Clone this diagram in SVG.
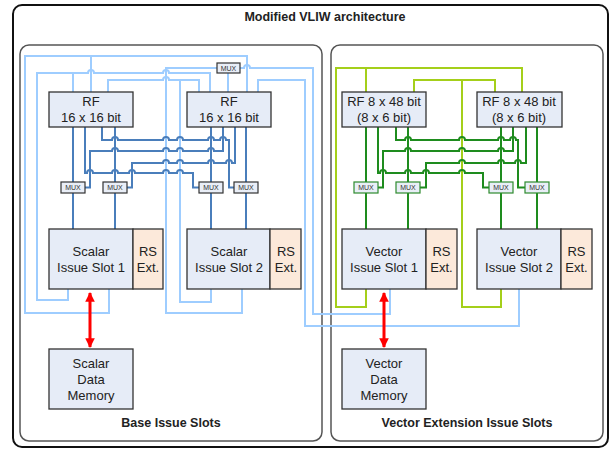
<svg xmlns="http://www.w3.org/2000/svg" width="611" height="450" viewBox="0 0 611 450">
<defs>
<style>
text{font-family:"Liberation Sans",Arial,sans-serif;fill:#222}
.t{font-size:13px;text-anchor:middle}
.b{font-size:12.5px;font-weight:bold;text-anchor:middle}
.m{font-size:7px;text-anchor:middle;fill:#333}
.box{fill:#e6ecf7;stroke:#333;stroke-width:1.3}
.rs{fill:#fce9da;stroke:#333;stroke-width:1.3}
.mux{fill:#e9eef7;stroke:#333;stroke-width:1.2}
.gmux{fill:#e9eef7;stroke:#2e8b2e;stroke-width:1.2}
.db{fill:none;stroke:#4a7ebb;stroke-width:2}
.dg{fill:none;stroke:#1e8c1e;stroke-width:2}
.lb{fill:none;stroke:#9ecdff;stroke-width:2}
.lm{fill:none;stroke:#a4cf1a;stroke-width:2}
.red{fill:none;stroke:#ff0000;stroke-width:3}
</style>
<marker id="ah" viewBox="0 0 10 10" refX="9" refY="5" markerWidth="3.2" markerHeight="3.2" orient="auto-start-reverse">
<path d="M0,0 L10,5 L0,10 z" fill="#ff0000"/>
</marker>
</defs>
<rect width="611" height="450" fill="#fff"/>
<g id="frame">
<rect x="13" y="5" width="595" height="442" rx="9" fill="none" stroke="#111" stroke-width="2"/>
<text class="b" x="325" y="21">Modified VLIW architecture</text>
</g>
<g id="base-slots">
<rect x="20" y="45" width="302" height="396" rx="9" fill="none" stroke="#555" stroke-width="1.5"/>
<text class="b" x="171" y="427">Base Issue Slots</text>
</g>
<g id="vector-slots">
<rect x="331" y="45" width="272" height="396" rx="9" fill="none" stroke="#555" stroke-width="1.5"/>
<text class="b" x="467" y="427">Vector Extension Issue Slots</text>
</g>
<g id="connectors">
<path class="lb" d="M109,289 V313 H25 V56 H247 V92 M91,56 V92"/>
<path class="lb" d="M68,289 V300 H37 V73 H88 a3,3 0 0 1 6,0 H163 a3,3 0 0 1 6,0 H210 V92 M73,73 V92"/>
<path class="lb" d="M211,289 V302 H180 V80 M108,92 V80 H163 a3,3 0 0 1 6,0 H199 V92"/>
<path class="lb" d="M242,289 V313 H166 V68 H217"/>
<path class="lb" d="M228,73 V92"/>
<path class="lb" d="M240,68 H244 a3,3 0 0 1 6,0 H313 V314 H390 V289"/>
<path class="lb" d="M519,289 V326 H305 V80 H258 V92"/>
<path class="lm" d="M366,289 V307 H336 V68 H522 V92 M366,68 V92"/>
<path class="lm" d="M501,289 V307 H462 V80 M414,92 V80 H495 V92"/>
<path class="db" d="M73,127 V182 M73,193 V229 M115,127 V182 M115,193 V229 M211,127 V182 M211,193 V229 M246,127 V182 M246,193 V229"/>
<path class="db" d="M85,127 V173 H87 a3,3 0 0 1 6,0 H112 a3,3 0 0 1 6,0 H129 a3,3 0 0 1 6,0 H163 a3,3 0 0 1 6,0 H177 a3,3 0 0 1 6,0 H193 V187.5 H199"/>
<path class="db" d="M102,127 V140 H112 a3,3 0 0 1 6,0 H163 a3,3 0 0 1 6,0 H177 a3,3 0 0 1 6,0 H208 a3,3 0 0 1 6,0 H220 a3,3 0 0 1 6,0 H229 V187.5 H234"/>
<path class="db" d="M85,187.5 H90 V151 H112 a3,3 0 0 1 6,0 H163 a3,3 0 0 1 6,0 H177 a3,3 0 0 1 6,0 H208 a3,3 0 0 1 6,0 H223 V127"/>
<path class="db" d="M127,187.5 H132 V163 H163 a3,3 0 0 1 6,0 H177 a3,3 0 0 1 6,0 H208 a3,3 0 0 1 6,0 H226 a3,3 0 0 1 6,0 H235 V127"/>
<path class="dg" d="M366,127 V182 M366,193 V229 M408,127 V182 M408,193 V229 M501,127 V182 M501,193 V229 M537,127 V182 M537,193 V229"/>
<path class="dg" d="M378,127 V173 H380 a3,3 0 0 1 6,0 H405 a3,3 0 0 1 6,0 H423 a3,3 0 0 1 6,0 H459 a3,3 0 0 1 6,0 H483 V187.5 H489"/>
<path class="dg" d="M396,127 V140 H405 a3,3 0 0 1 6,0 H459 a3,3 0 0 1 6,0 H498 a3,3 0 0 1 6,0 H510 a3,3 0 0 1 6,0 H518 V187.5 H525"/>
<path class="dg" d="M378,187.5 H383 V151 H405 a3,3 0 0 1 6,0 H459 a3,3 0 0 1 6,0 H498 a3,3 0 0 1 6,0 H513 V127"/>
<path class="dg" d="M420,187.5 H426 V163 H459 a3,3 0 0 1 6,0 H498 a3,3 0 0 1 6,0 H515 a3,3 0 0 1 6,0 H526 V127"/>
<path class="red" d="M90,293 V347" marker-start="url(#ah)" marker-end="url(#ah)"/>
<path class="red" d="M384,293 V347" marker-start="url(#ah)" marker-end="url(#ah)"/>
</g>
<g id="rf1"><rect class="box" x="49" y="92" width="84" height="35"/><text class="t" x="91" y="106">RF</text><text class="t" x="91" y="122">16 x 16 bit</text></g>
<g id="rf2"><rect class="box" x="187" y="92" width="84" height="35"/><text class="t" x="229" y="106">RF</text><text class="t" x="229" y="122">16 x 16 bit</text></g>
<g id="vrf1"><rect class="box" x="342" y="92" width="84" height="35"/><text class="t" x="384" y="106">RF 8 x 48 bit</text><text class="t" x="384" y="122">(8 x 6 bit)</text></g>
<g id="vrf2"><rect class="box" x="477" y="92" width="85" height="35"/><text class="t" x="519" y="106">RF 8 x 48 bit</text><text class="t" x="519" y="122">(8 x 6 bit)</text></g>
<g id="mux-top"><rect class="mux" x="217" y="63" width="23" height="10"/><text class="m" x="228.5" y="70.5">MUX</text></g>
<g id="mux1"><rect class="mux" x="61" y="182" width="24" height="11"/><text class="m" x="73" y="190">MUX</text></g>
<g id="mux2"><rect class="mux" x="103" y="182" width="24" height="11"/><text class="m" x="115" y="190">MUX</text></g>
<g id="mux3"><rect class="mux" x="199" y="182" width="24" height="11"/><text class="m" x="211" y="190">MUX</text></g>
<g id="mux4"><rect class="mux" x="234" y="182" width="24" height="11"/><text class="m" x="246" y="190">MUX</text></g>
<g id="vmux1"><rect class="gmux" x="354" y="182" width="24" height="11"/><text class="m" x="366" y="190">MUX</text></g>
<g id="vmux2"><rect class="gmux" x="396" y="182" width="24" height="11"/><text class="m" x="408" y="190">MUX</text></g>
<g id="vmux3"><rect class="gmux" x="489" y="182" width="24" height="11"/><text class="m" x="501" y="190">MUX</text></g>
<g id="vmux4"><rect class="gmux" x="525" y="182" width="24" height="11"/><text class="m" x="537" y="190">MUX</text></g>
<g id="slot1"><rect class="box" x="49" y="229" width="84" height="60"/><rect class="rs" x="133" y="229" width="30" height="60"/><text class="t" x="91" y="256">Scalar</text><text class="t" x="91" y="272">Issue Slot 1</text><text class="t" x="148" y="256">RS</text><text class="t" x="148" y="272">Ext.</text></g>
<g id="slot2"><rect class="box" x="187" y="229" width="83" height="60"/><rect class="rs" x="270" y="229" width="31" height="60"/><text class="t" x="229" y="256">Scalar</text><text class="t" x="229" y="272">Issue Slot 2</text><text class="t" x="286" y="256">RS</text><text class="t" x="286" y="272">Ext.</text></g>
<g id="vslot1"><rect class="box" x="342" y="229" width="84" height="60"/><rect class="rs" x="426" y="229" width="31" height="60"/><text class="t" x="384" y="256">Vector</text><text class="t" x="384" y="272">Issue Slot 1</text><text class="t" x="441.5" y="256">RS</text><text class="t" x="441.5" y="272">Ext.</text></g>
<g id="vslot2"><rect class="box" x="477" y="229" width="84" height="60"/><rect class="rs" x="561" y="229" width="31" height="60"/><text class="t" x="519" y="256">Vector</text><text class="t" x="519" y="272">Issue Slot 2</text><text class="t" x="576.5" y="256">RS</text><text class="t" x="576.5" y="272">Ext.</text></g>
<g id="smem"><rect class="box" x="49" y="349" width="84" height="60"/><text class="t" x="91" y="368">Scalar</text><text class="t" x="91" y="384">Data</text><text class="t" x="91" y="400">Memory</text></g>
<g id="vmem"><rect class="box" x="342" y="349" width="84" height="60"/><text class="t" x="384" y="368">Vector</text><text class="t" x="384" y="384">Data</text><text class="t" x="384" y="400">Memory</text></g>
</svg>
